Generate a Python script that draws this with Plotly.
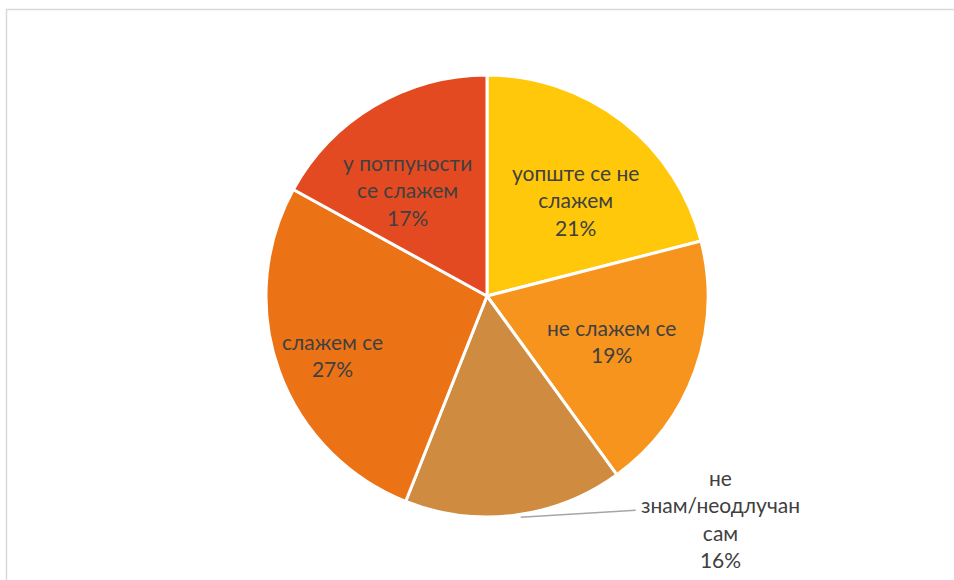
import math
import plotly.graph_objects as go

labels = ["уопште се не слажем", "не слажем се", "не знам/неодлучан сам", "слажем се", "у потпуности се слажем"]
label_text = ["уопште се не<br>слажем", "не слажем се", "не<br>знам/неодлучан<br>сам", "слажем се", "у потпуности<br>се слажем"]
values = [21, 19, 16, 27, 17]
colors = ["#FFC80B", "#F7941D", "#CF8C40", "#EC7216", "#E44A22"]

# label placement style (fraction of radius from centre, angular nudge in degrees); None = outside label
label_rfrac = [0.59, 0.6, None, 0.75, 0.6]
label_nudge = [5, 0, 0, -1, -6]

W, H = 954, 580
cx, cy, R = 487, 296, 221  # pie centre / radius in pixels

fig = go.Figure()
fig.add_trace(go.Pie(
    labels=labels, values=values, sort=False, direction="clockwise", rotation=0,
    marker=dict(colors=colors, line=dict(color="white", width=3)),
    textinfo="none", hoverinfo="label+percent", showlegend=False,
    domain=dict(x=[(cx - R) / W, (cx + R) / W], y=[1 - (cy + R) / H, 1 - (cy - R) / H]),
))

font = dict(family="Lato, Open Sans, sans-serif", size=21, color="#404040")
total = sum(values)
cum = 0
annotations = []
shapes = []
for i, v in enumerate(values):
    mid = (cum + v / 2) / total * 360
    cum += v
    pct = f"{round(v / total * 100)}%"
    text = f"{label_text[i]}<br>{pct}"
    a = math.radians(mid + label_nudge[i])
    if label_rfrac[i] is not None:
        f = label_rfrac[i]
        px = cx + f * R * math.sin(a)
        py = cy - f * R * math.cos(a)
        annotations.append(dict(x=px / W, y=1 - py / H, xref="paper", yref="paper",
                                xanchor="center", yanchor="middle",
                                text=text, showarrow=False, font=font, align="center"))
    else:
        ex = cx + R * math.sin(a) + 6
        ey = cy - R * math.cos(a) + 2
        lx, ly = ex + 115, ey - 7
        shapes.append(dict(type="line", xref="paper", yref="paper",
                           x0=ex / W, y0=1 - ey / H, x1=lx / W, y1=1 - ly / H,
                           line=dict(color="#A6A6A6", width=1.5)))
        annotations.append(dict(x=(lx + 85) / W, y=1 - (ly + 8) / H, xref="paper", yref="paper",
                                xanchor="center", yanchor="middle",
                                text=text, showarrow=False, font=font, align="center"))

shapes.append(dict(type="rect", xref="paper", yref="paper",
                   x0=6.5 / W, y0=1 - 9.5 / H, x1=1.05, y1=-0.05,
                   line=dict(color="#D9D9D9", width=1.5), layer="below"))

fig.update_layout(
    width=W, height=H, margin=dict(l=0, r=0, t=0, b=0),
    paper_bgcolor="white", plot_bgcolor="white",
    annotations=annotations, shapes=shapes,
)
fig.write_html("out.html", config={"displayModeBar": False},
               post_script="document.body.style.margin='0';document.body.style.overflow='hidden';")
